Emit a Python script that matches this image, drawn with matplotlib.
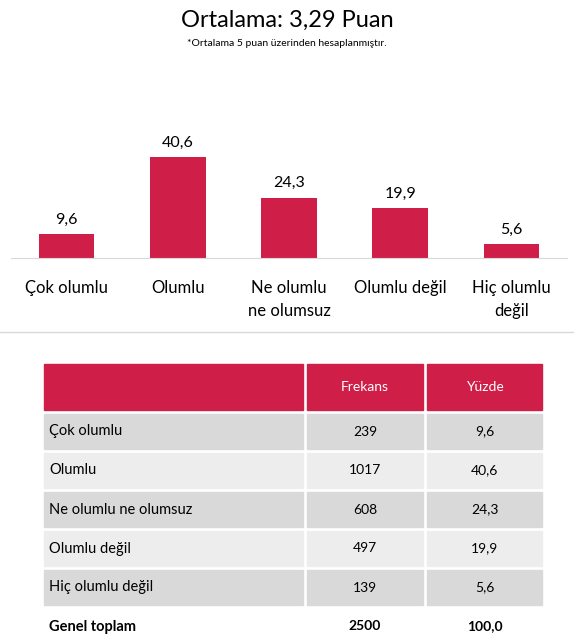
import matplotlib
matplotlib.use("Agg")
import matplotlib.pyplot as plt
from matplotlib.patches import Rectangle

plt.rcParams['font.family'] = ['Lato', 'DejaVu Sans']

categories = ["Çok olumlu", "Olumlu", "Ne olumlu\nne olumsuz", "Olumlu değil", "Hiç olumlu\ndeğil"]
table_labels = ["Çok olumlu", "Olumlu", "Ne olumlu ne olumsuz", "Olumlu değil", "Hiç olumlu değil"]
percent = [9.6, 40.6, 24.3, 19.9, 5.6]
frequency = [239, 1017, 608, 497, 139]
total_label = "Genel toplam"
total_freq = 2500
total_pct = 100.0
headers = ["Frekans", "Yüzde"]

RED = "#cf1f48"
W, H = 574, 643
fig = plt.figure(figsize=(W/100, H/100), dpi=100)

def fmt(v):
    return f"{v:.1f}".replace(".", ",")

fig.text(0.5, 1-20/H, "Ortalama: 3,29 Puan", ha="center", va="center", fontsize=17)
fig.text(0.5, 1-44/H, "*Ortalama 5 puan üzerinden hesaplanmıştır.", ha="center", va="center", fontsize=7.5)

# bar chart axes: x from 11 to 567 px, baseline at y=258
ax = fig.add_axes([11/W, 1-258/H, 556/W, 150/H])
x = list(range(len(categories)))
ax.bar(x, percent, width=0.5, color=RED)
ax.set_xlim(-0.5, 4.5)
ax.set_ylim(0, 60.3)
for xi, v in zip(x, percent):
    ax.text(xi, v + 3, fmt(v), ha="center", va="bottom", fontsize=11.5)
ax.set_xticks(x)
ax.set_xticklabels(categories, fontsize=12, linespacing=1.5, va="top")
ax.tick_params(axis="x", length=0, pad=16)
ax.set_yticks([])
for s in ["top", "right", "left"]:
    ax.spines[s].set_visible(False)
ax.spines["bottom"].set_color("#d9d9d9")

# separator
fig.add_artist(plt.Line2D([0, 1], [1-332/H, 1-332/H], color="#d9d9d9", lw=1))

# table in pixel coords
tax = fig.add_axes([0, 0, 1, 1])
tax.set_xlim(0, W); tax.set_ylim(H, 0); tax.axis("off")
cols = [(44, 303), (307, 423), (427, 542)]
# header
for c0, c1 in cols:
    tax.add_patch(Rectangle((c0, 364), c1-c0, 46, color=RED))
for (c0, c1), h in zip(cols[1:], headers):
    tax.text((c0+c1)/2, 387, h, ha="center", va="center", color="white", fontsize=10)
row_h = 35
gap = 4
y = 414
shades = ["#d9d9d9", "#ededed"]
for i, (lab, f, p) in enumerate(zip(table_labels, frequency, percent)):
    for c0, c1 in cols:
        tax.add_patch(Rectangle((c0, y), c1-c0, row_h, color=shades[i % 2]))
    tax.text(49, y+row_h/2, lab, ha="left", va="center", fontsize=10.5)
    tax.text(sum(cols[1])/2, y+row_h/2, str(f), ha="center", va="center", fontsize=10)
    tax.text(sum(cols[2])/2, y+row_h/2, fmt(p), ha="center", va="center", fontsize=10)
    y += row_h + gap
tax.text(49, y+row_h/2, total_label, ha="left", va="center", fontsize=10.5, fontweight="bold")
tax.text(sum(cols[1])/2, y+row_h/2, str(total_freq), ha="center", va="center", fontsize=10, fontweight="bold")
tax.text(sum(cols[2])/2, y+row_h/2, fmt(total_pct), ha="center", va="center", fontsize=10, fontweight="bold")

fig.savefig("out.png", dpi=100)
